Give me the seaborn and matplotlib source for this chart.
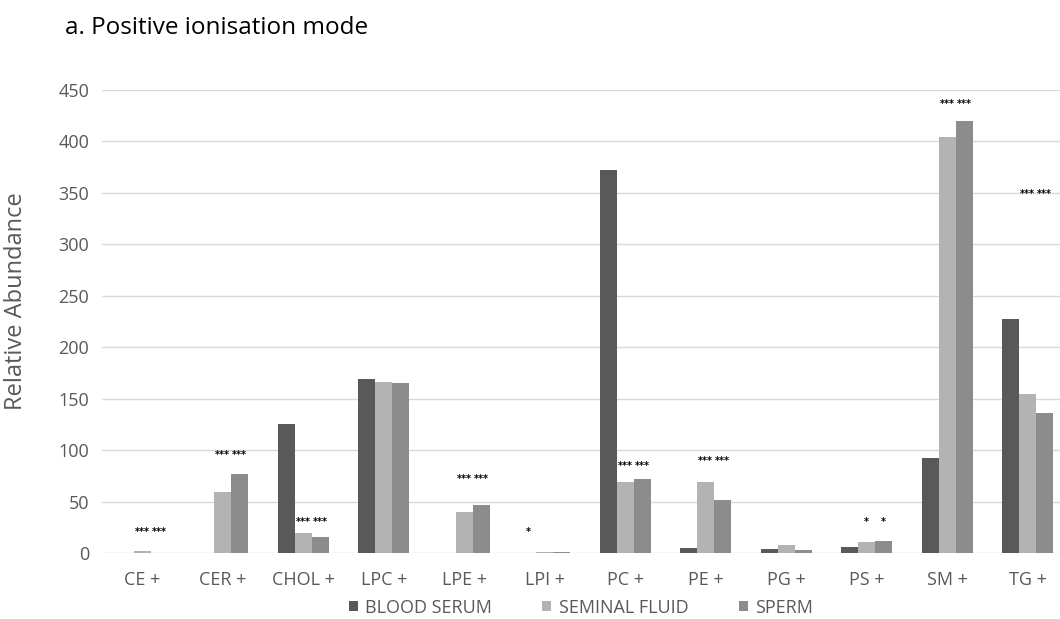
import pandas as pd
import numpy as np
import matplotlib
matplotlib.use('Agg')
import matplotlib.pyplot as plt
import seaborn as sns

# =============================================================================
# data
# =============================================================================
lipids = ['CE +', 'CER +', 'CHOL +', 'LPC +', 'LPE +', 'LPI +',
          'PC +', 'PE +', 'PG +', 'PS +', 'SM +', 'TG +']
series = ['BLOOD SERUM', 'SEMINAL FLUID', 'SPERM']

blood_serum   = [0,   0.5, 125, 169, 0,  0,   372, 4.5, 4,   6,  92,  227]
seminal_fluid = [1.5, 59,  19,  166, 40, 1.2, 69,  69,  7.5, 11, 404, 155]
sperm         = [0,   77,  16,  165, 47, 1,   72,  52,  3,   12, 420, 136]

# significance marks: (lipid, series, text, height)
stars_lipid  = ['CE +', 'CE +', 'CER +', 'CER +', 'CHOL +', 'CHOL +',
                'LPE +', 'LPE +', 'LPI +', 'PC +', 'PC +', 'PE +', 'PE +',
                'PS +', 'PS +', 'SM +', 'SM +', 'TG +', 'TG +']
stars_series = ['SEMINAL FLUID', 'SPERM'] * 4 + ['BLOOD SERUM'] + \
               ['SEMINAL FLUID', 'SPERM'] * 5
stars_text   = ['***'] * 8 + ['*'] + ['***'] * 4 + ['*'] * 2 + ['***'] * 4
stars_y      = [20, 20, 95, 95, 30, 30, 72, 72, 20, 85, 85, 89, 89,
                30, 30, 436, 436, 349, 349]

colors = ['#595959', '#b3b3b3', '#8c8c8c']

df = pd.DataFrame({
    'lipid': lipids * 3,
    'group': np.repeat(series, len(lipids)),
    'value': blood_serum + seminal_fluid + sperm,
})

# =============================================================================
# plot
# =============================================================================
sns.set_style('white')
plt.rcParams['font.family'] = ['Open Sans', 'DejaVu Sans']

fig = plt.figure(figsize=(10.6, 6.19), dpi=100)
ax = fig.add_axes([0.096, 0.1066, 0.904, 0.748])

sns.barplot(data=df, x='lipid', y='value', hue='group', order=lipids,
            hue_order=series, palette=colors, width=0.63, linewidth=0,
            saturation=1, ax=ax)

ax.set_ylim(0, 450)
ax.set_xlim(-0.503, 11.4)
ax.set_yticks(range(0, 451, 50))
ax.yaxis.grid(True, color='#d9d9d9', linewidth=1)
ax.set_axisbelow(True)
for s in ax.spines.values():
    s.set_visible(False)
ax.tick_params(axis='both', length=0, labelsize=13, colors='#595959')
ax.tick_params(axis='x', pad=13)
ax.tick_params(axis='y', pad=9)
ax.set_xlabel('')
ax.set_ylabel('Relative Abundance', fontsize=17, color='#595959')
ax.yaxis.set_label_coords(-0.077, 0.544)

# significance stars
offs = {'BLOOD SERUM': -0.21, 'SEMINAL FLUID': 0.0, 'SPERM': 0.21}
for lp, sr, tx, yy in zip(stars_lipid, stars_series, stars_text, stars_y):
    ax.text(lipids.index(lp) + offs[sr], yy, tx, ha='center', va='center',
            fontsize=7, fontweight='bold', color='black', family='DejaVu Sans')

ax.legend(loc='upper center', bbox_to_anchor=(0.5, -0.091), ncol=3,
          frameon=False, fontsize=13, handlelength=0.5, handleheight=0.5,
          handletextpad=0.4, columnspacing=2.8, labelcolor='#595959',
          borderaxespad=0, borderpad=0.2)

fig.text(0.061, 0.955, 'a. Positive ionisation mode', fontsize=17.5,
         color='black', va='center', ha='left')

plt.savefig('out.png', dpi=100)
